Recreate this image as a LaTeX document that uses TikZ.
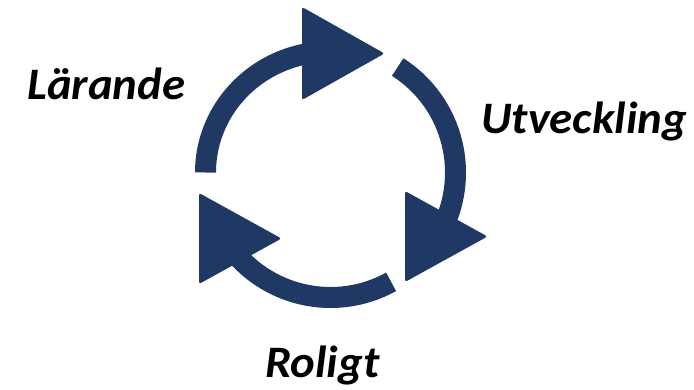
\documentclass[tikz,border=0pt]{standalone}
\usepackage{fontspec}
\setmainfont{Carlito}
\definecolor{cyclenavy}{HTML}{203864}
\begin{document}
\begin{tikzpicture}[x=1pt,y=1pt,
  ring/.style={draw=cyclenavy,line width=21pt,line cap=butt},
  head/.style={fill=cyclenavy,rounded corners=2.5pt},
  word/.style={anchor=base west,inner sep=0pt,xscale=1.04,transform shape,
    font=\fontsize{45}{54}\selectfont\bfseries\itshape}]
\useasboundingbox (0,0) rectangle (694,389);
\coordinate (c) at (330.5,216.5);
% three arc segments of the cycle
\draw[ring] (c) ++(180:125 and 121) arc[start angle=180,end angle=80,x radius=125,y radius=121];
\draw[ring] (c) ++(57.5:125) arc[start angle=57.5,end angle=-30,radius=125];
\draw[ring] (c) ++(-61:125) arc[start angle=-61,end angle=-145,radius=125];
% arrowheads
\fill[head] (302,382) -- (384.5,335.5) -- (302,289) -- cycle;
\fill[head] (405,198) -- (487.5,152.5) -- (405,107) -- cycle;
\fill[head] (199,196) -- (281.5,150.5) -- (199,105) -- cycle;
% labels
\node[word] (larande) at (27,289) {Lärande};
\node[word] (utveckling) at (481,255.7) {Utveckling};
\node[word] (roligt) at (265,11.5) {Roligt};
\end{tikzpicture}
\end{document}
